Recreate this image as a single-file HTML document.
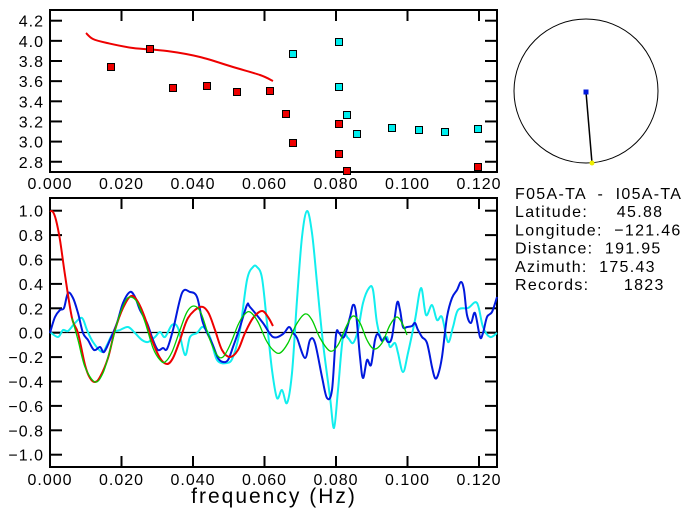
<!DOCTYPE html><html><head><meta charset="utf-8"><style>
body{margin:0;background:#fff}svg{display:block}
text{font-family:"Liberation Sans",sans-serif}
</style></head><body>
<svg id="s" width="696" height="519" xmlns="http://www.w3.org/2000/svg"></svg>
<script>
const s=document.getElementById('s');let h='';
const X=f=>50+f*3575;
function cr(p){let d='M'+p[0][0]+','+p[0][1];for(let i=0;i<p.length-1;i++){const a=p[i-1]||p[i],b=p[i],c=p[i+1],e=p[i+2]||c;
d+=' C'+(b[0]+(c[0]-a[0])/6).toFixed(1)+','+(b[1]+(c[1]-a[1])/6).toFixed(1)+' '+(c[0]-(e[0]-b[0])/6).toFixed(1)+','+(c[1]-(e[1]-b[1])/6).toFixed(1)+' '+c[0]+','+c[1];}return d;}
function box(t,b){h+=`<rect x="50" y="${t}" width="447" height="${b-t}" fill="none" stroke="#000" stroke-width="2"/>`;}
const TL='font-size="16" letter-spacing="1"';
// top plot
box(10,172);
for(let i=1;i<=6;i++){const x=X(i*0.02);h+=`<line x1="${x}" y1="10" x2="${x}" y2="21" stroke="#000" stroke-width="2"/>`;}
for(let i=0;i<=7;i++){const v=4.2-i*0.2,y=20.7+i*20.15;h+=`<line x1="50" y1="${y}" x2="62" y2="${y}" stroke="#000" stroke-width="2"/><line x1="485" y1="${y}" x2="497" y2="${y}" stroke="#000" stroke-width="2"/><text x="44" y="${y+6}" ${TL} text-anchor="end">${v.toFixed(1)}</text>`;}
for(let i=0;i<=6;i++){const x=X(i*0.02);h+=`<text x="${x}" y="189" ${TL} text-anchor="middle">${(i*0.02).toFixed(3)}</text>`;}
h+=`<path d="${cr([[86,33],[93,39],[107,43],[133,48],[167,51],[200,57],[233,67],[260,75],[273,81]])}" fill="none" stroke="#e00" stroke-width="2"/>`;
const red=[[111,67],[150,49],[173,88],[207,86],[237,92],[270,91],[286,114],[293,143],[339,124],[339,154],[347,171],[478,167]];
const cy=[[293,54],[339,42],[339,87],[347,115],[357,134],[392,128],[419,130],[445,132],[478,129]];
red.forEach(p=>h+=`<rect x="${p[0]-3.5}" y="${p[1]-3.5}" width="7" height="7" fill="#e00" stroke="#000" stroke-width="1"/>`);
cy.forEach(p=>h+=`<rect x="${p[0]-3.5}" y="${p[1]-3.5}" width="7" height="7" fill="#0ee" stroke="#000" stroke-width="1"/>`);
// bottom plot
box(198,467);
for(let i=1;i<=6;i++){const x=X(i*0.02);h+=`<line x1="${x}" y1="198" x2="${x}" y2="209" stroke="#000" stroke-width="2"/><line x1="${x}" y1="456" x2="${x}" y2="467" stroke="#000" stroke-width="2"/>`;}
for(let i=0;i<=10;i++){const v=1-i*0.2,y=210.7+i*24.4;h+=`<line x1="50" y1="${y}" x2="62" y2="${y}" stroke="#000" stroke-width="2"/><line x1="485" y1="${y}" x2="497" y2="${y}" stroke="#000" stroke-width="2"/><text x="44" y="${y+6}" ${TL} text-anchor="end">${(Math.abs(v)<1e-9?0:v).toFixed(1).replace('-','−')}</text>`;}
for(let i=0;i<=6;i++){const x=X(i*0.02);h+=`<text x="${x}" y="485" ${TL} text-anchor="middle">${(i*0.02).toFixed(3)}</text>`;}
h+=`<text x="274" y="503" font-size="21" letter-spacing="2" text-anchor="middle">frequency (Hz)</text>`;
h+=`<line x1="50" y1="332.5" x2="497" y2="332.5" stroke="#000" stroke-width="1.2"/>`;
const cyan=[[50,332],[58,337],[63,330],[68,331],[75,323],[82,318],[87,330],[93,342],[102,352],[107,345],[113,333],[120,330],[128,327],[135,333],[142,340],[148,342],[155,337],[160,332],[165,337],[172,325],[178,328],[185,355],[190,337],[197,333],[203,327],[210,337],[217,360],[227,363],[233,357],[240,330],[247,280],[253,267],[257,267],[262,278],[267,323],[272,370],[277,398],[282,390],[287,403],[292,373],[297,300],[302,237],[307,211],[312,233],[317,283],[323,343],[330,397],[334,428],[338,390],[343,337],[348,338],[353,343],[358,330],[363,303],[369,288],[373,290],[377,323],[382,340],[387,337],[390,347],[395,343],[398,353],[403,372],[408,353],[415,320],[421,288],[426,315],[432,305],[437,320],[442,317],[448,342],[453,327],[458,310],[468,308],[477,303],[483,327],[490,337],[497,333]];
const blue=[[50,333],[55,317],[60,310],[64,308],[68,293],[73,298],[78,313],[83,333],[88,340],[94,350],[100,347],[104,352],[110,340],[117,323],[123,303],[130,292],[135,297],[140,310],[147,323],[153,340],[158,350],[163,348],[167,349],[173,330],[182,293],[190,292],[197,297],[203,323],[212,343],[218,358],[223,362],[228,360],[233,347],[240,327],[247,305],[250,307],[263,323],[273,337],[283,334],[289,327],[293,333],[297,338],[305,358],[310,340],[315,343],[322,377],[327,398],[332,390],[336,335],[339,333],[344,337],[350,317],[353,305],[356,313],[360,357],[363,378],[367,360],[371,365],[375,340],[378,334],[382,341],[385,337],[388,342],[392,337],[397,303],[400,310],[403,327],[407,327],[412,326],[415,323],[418,330],[422,337],[427,343],[432,367],[435,378],[438,375],[442,357],[447,317],[452,298],[457,290],[461,282],[464,290],[467,315],[471,323],[475,313],[480,337],[483,333],[487,317],[492,312],[497,297]];
const rd=[[50,211],[53,212],[56,220],[60,240],[65,275],[72,318],[78,333],[85,365],[90,378],[95,382],[100,377],[108,358],[115,330],[123,308],[131,296],[138,302],[145,318],[152,340],[160,358],[167,364],[173,358],[180,340],[188,318],[200,307],[208,312],[215,330],[222,350],[230,357],[238,350],[245,333],[253,318],[262,311],[268,317],[273,326]];
const gr=[[72,318],[78,340],[85,367],[95,382],[103,373],[110,350],[118,320],[125,302],[130,297],[137,302],[145,322],[153,348],[160,360],[165,362],[172,352],[180,330],[187,312],[194,306],[201,313],[210,340],[217,355],[223,357],[230,345],[238,325],[244,315],[250,312],[258,322],[266,340],[273,350],[280,353],[288,343],[296,325],[305,314],[312,320],[320,338],[330,351],[338,345],[346,327],[353,316],[360,323],[367,340],[374,349],[382,343],[390,325],[397,317],[403,325],[407,335]];
h+=`<path d="${cr(cyan)}" fill="none" stroke="#1ee" stroke-width="2"/>`;
h+=`<path d="${cr(blue)}" fill="none" stroke="#0018dd" stroke-width="2"/>`;
h+=`<path d="${cr(rd)}" fill="none" stroke="#e00" stroke-width="2"/>`;
h+=`<path d="${cr(gr)}" fill="none" stroke="#0c0" stroke-width="1.3"/>`;
// circle
h+=`<circle cx="586" cy="91" r="72" fill="none" stroke="#000" stroke-width="1"/><line x1="586" y1="92" x2="592" y2="163" stroke="#000" stroke-width="1.5"/><rect x="583.5" y="89.5" width="5" height="5" fill="#0018dd"/><circle cx="592" cy="163" r="2.5" fill="#ee0"/>`;
const L=["F05A-TA  -  I05A-TA","Latitude:     45.88","Longitude:  −121.46","Distance:  191.95","Azimuth:  175.43","Records:      1823"];
L.forEach((t,i)=>h+=`<text x="515" y="${199+i*18.2}" font-size="16" letter-spacing="1.3" style="white-space:pre" xml:space="preserve">${t}</text>`);
s.innerHTML=h;
</script></body></html>
